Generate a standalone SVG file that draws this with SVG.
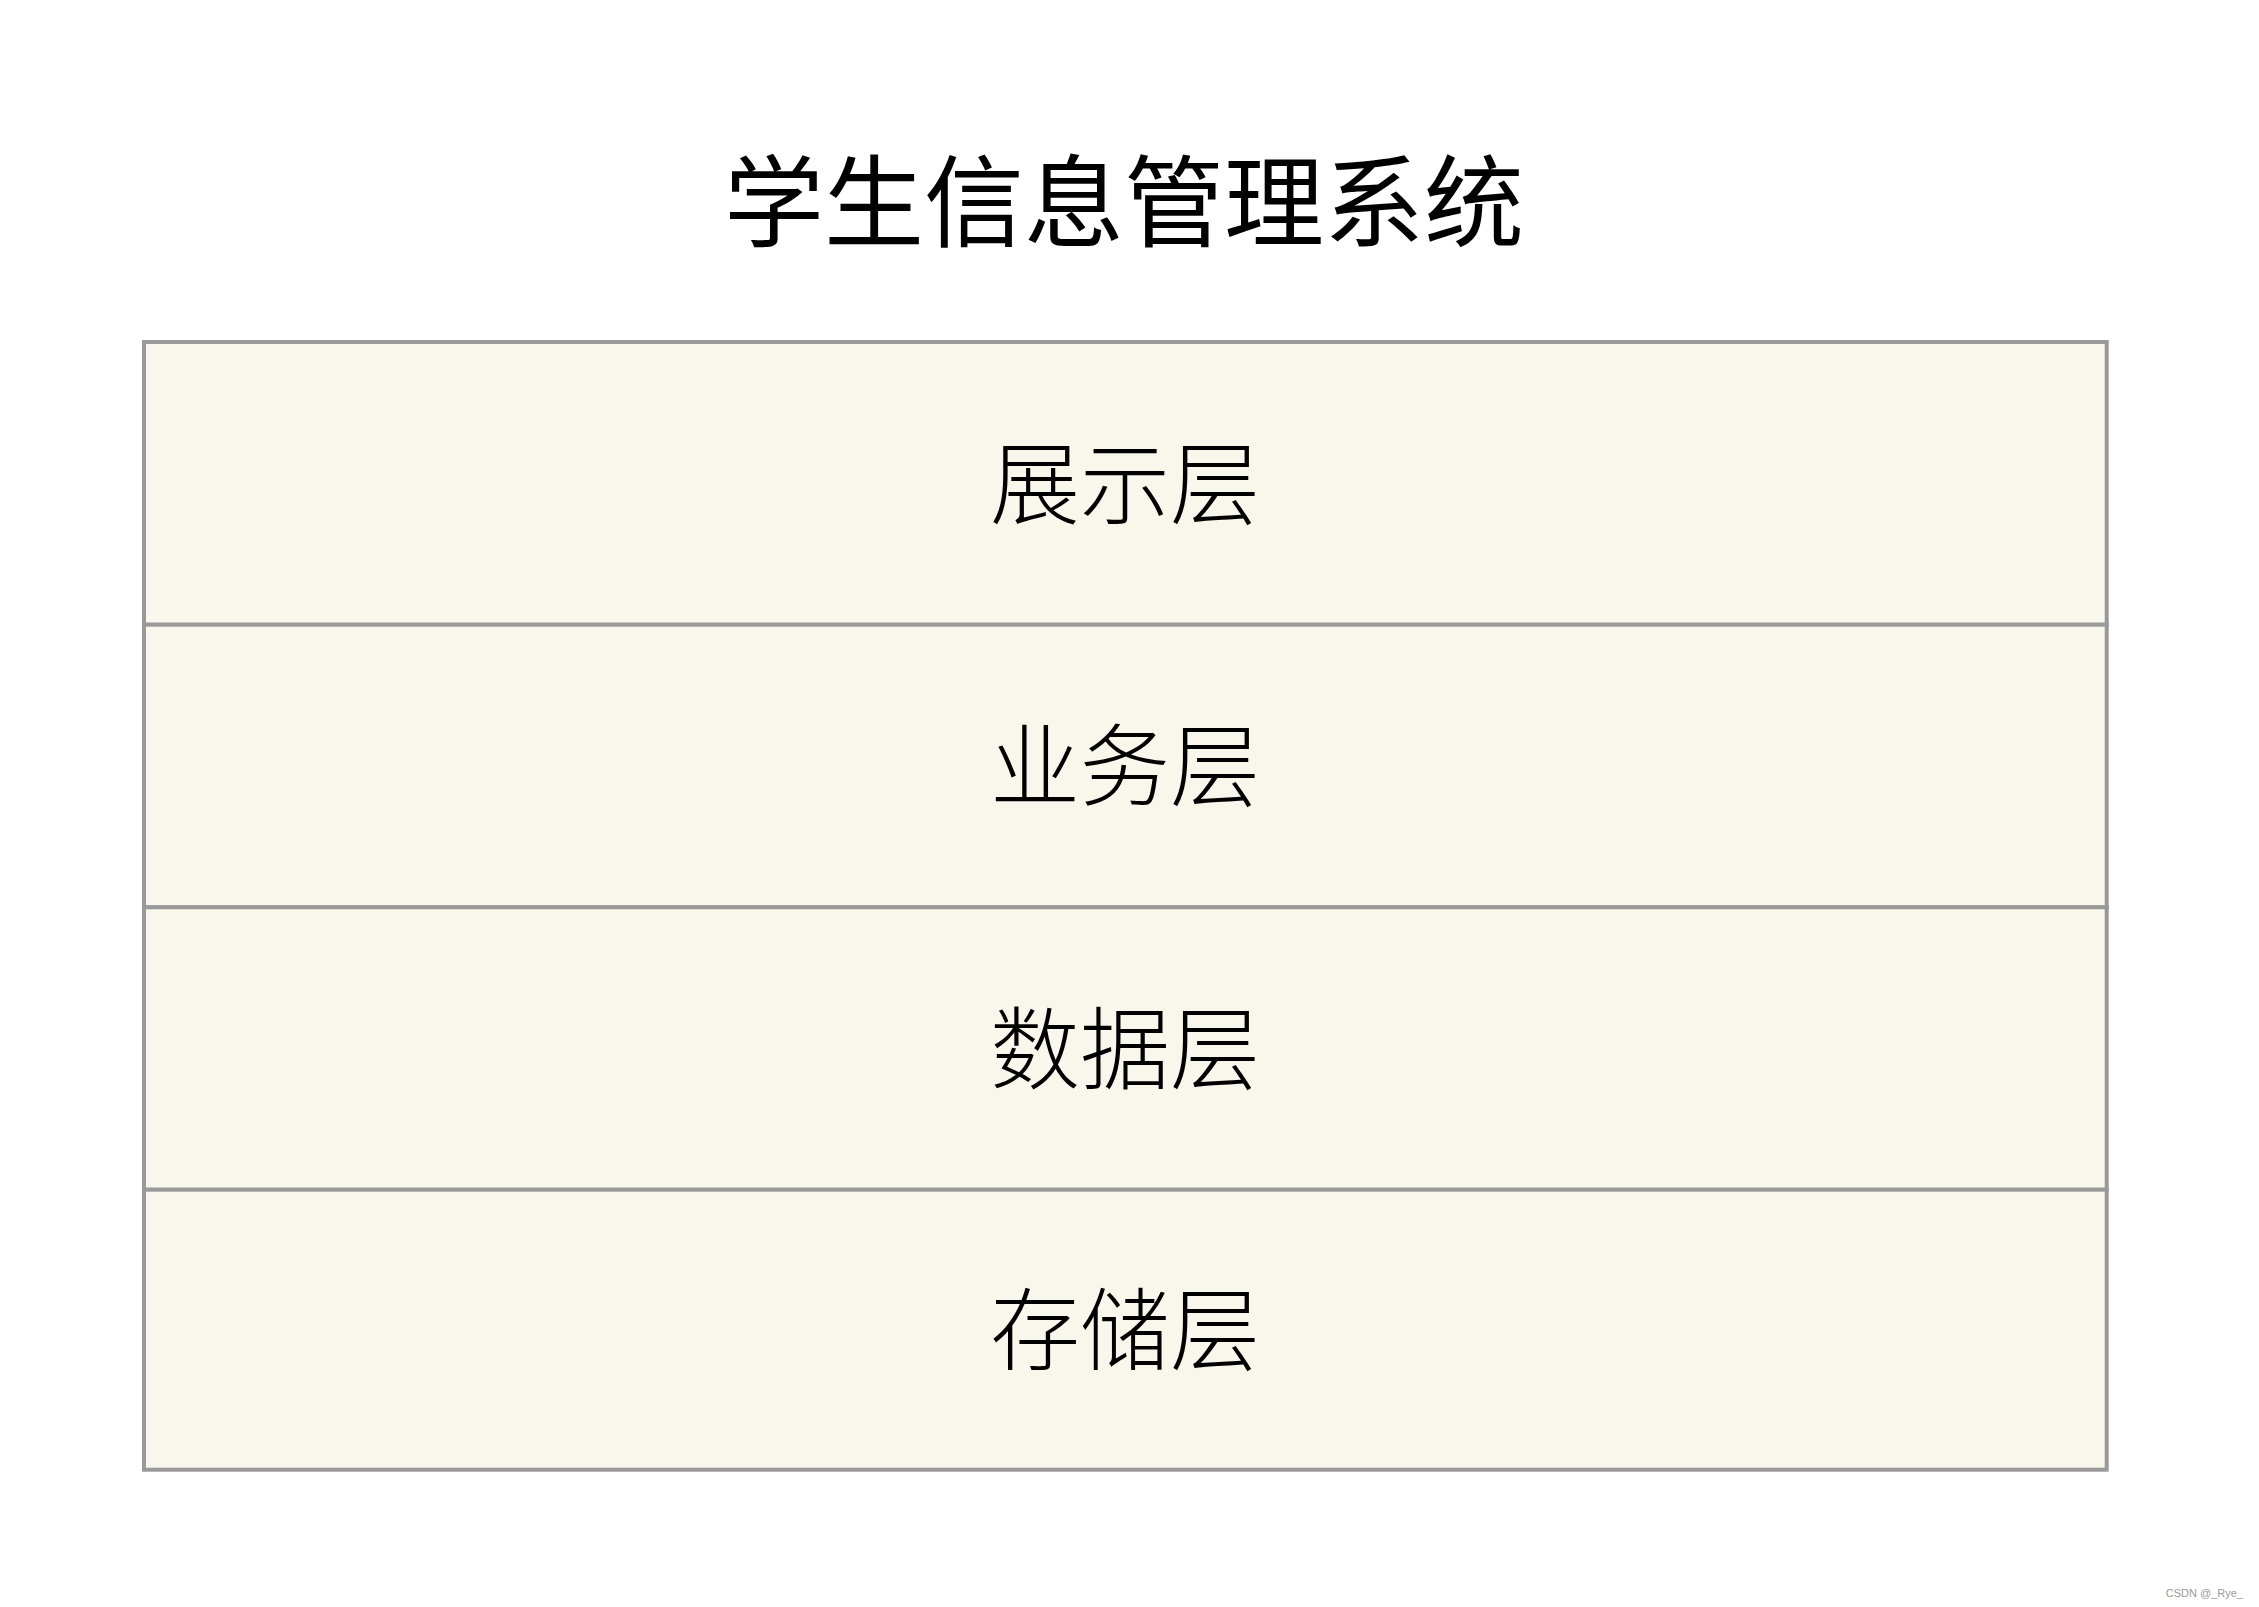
<svg xmlns="http://www.w3.org/2000/svg" width="2259" height="1607" viewBox="0 0 2259 1607">
<style>
.t{font-family:"Noto Sans CJK SC","Noto Sans",sans-serif;fill:#000;text-anchor:middle;dominant-baseline:central}
.layer rect{fill:#f9f7ec;stroke:#999;stroke-width:4}
.lbl{font-size:90px;font-weight:300}
</style>
<rect width="2259" height="1607" fill="#fff"/>
<g id="title"><text class="t" x="1124" y="195" font-size="100">学生信息管理系统</text></g>
<g id="layer-presentation" class="layer"><rect x="144" y="342" width="1962.7" height="282.7"/><text class="t lbl" x="1125" y="478">展示层</text></g>
<g id="layer-business" class="layer"><rect x="144" y="624.7" width="1962.7" height="282.6"/><text class="t lbl" x="1125" y="760">业务层</text></g>
<g id="layer-data" class="layer"><rect x="144" y="907.3" width="1962.7" height="282.4"/><text class="t lbl" x="1125" y="1043">数据层</text></g>
<g id="layer-storage" class="layer"><rect x="144" y="1189.7" width="1962.7" height="280"/><text class="t lbl" x="1125" y="1324">存储层</text></g>
<g id="connectors"></g>
<text x="2243" y="1597" font-family="Liberation Sans, sans-serif" font-size="11" fill="#999" text-anchor="end">CSDN @_Rye_</text>
</svg>
